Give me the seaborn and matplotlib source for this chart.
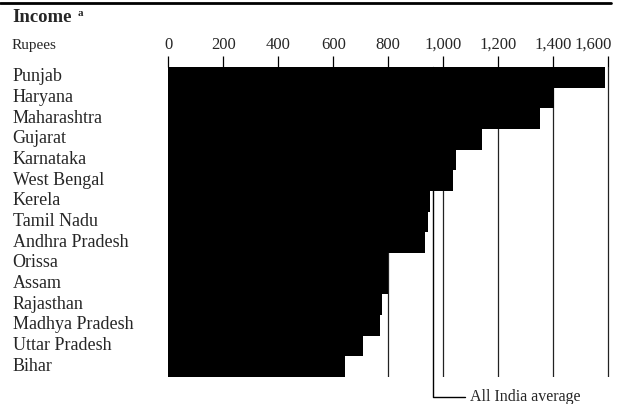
"""
Доход на душу населения по штатам Индии, рупии (горизонтальные столбцы).
"""
import pandas as pd
import seaborn as sns
import matplotlib.pyplot as plt
from matplotlib.transforms import ScaledTranslation

sns.set_theme(style="white")
plt.rcParams['font.family'] = ['Liberation Serif', 'DejaVu Serif']

# данные с картинки
states = ['Punjab', 'Haryana', 'Maharashtra', 'Gujarat', 'Karnataka', 'West Bengal',
          'Kerela', 'Tamil Nadu', 'Andhra Pradesh', 'Orissa', 'Assam', 'Rajasthan',
          'Madhya Pradesh', 'Uttar Pradesh', 'Bihar']
income = [1588, 1403, 1352, 1140, 1046, 1036, 952, 945, 933, 800, 798, 776, 770, 709, 643]
all_india_average = 963
x_ticks = [0, 200, 400, 600, 800, 1000, 1200, 1400, 1600]
x_tick_labels = ['0', '200', '400', '600', '800', '1,000', '1,200', '1,400', '1,600']

data_frame = pd.DataFrame({'state': states, 'income': income})

W, H = 623, 404
fig = plt.figure(figsize=(W / 100, H / 100), dpi=100)
ax = fig.add_axes([168.3 / W, 27 / H, 442.75 / W, 310 / H])

sns.barplot(data=data_frame, x='income', y='state', orient='h', color='black',
            saturation=1, width=1.0, linewidth=0, ax=ax, zorder=2)

ax.set_xlim(0, 1610)
ax.set_ylim(len(states) - 0.5, -0.5)
ax.set_xlabel('')
ax.set_ylabel('')
for spine in ax.spines.values():
    spine.set_visible(False)

# шкала сверху
ax.xaxis.tick_top()
ax.set_xticks(x_ticks, x_tick_labels)
ax.tick_params(axis='x', direction='out', length=8, width=0.9, color='black',
               pad=2, labelsize=12, top=True, bottom=False)
# последняя подпись сдвинута влево, как в оригинале
last = ax.get_xticklabels()[-1]
last.set_transform(last.get_transform() + ScaledTranslation(-0.15, 0, fig.dpi_scale_trans))

# вертикальные линии сетки
for tick in x_ticks:
    ax.axvline(tick, color='#222222', lw=0.9, zorder=1)

# подписи штатов слева
ax.tick_params(axis='y', length=0, pad=112, labelsize=13)
for label in ax.get_yticklabels():
    label.set_horizontalalignment('left')
    label.set_transform(label.get_transform() + ScaledTranslation(0, 0.025, fig.dpi_scale_trans))

# линия среднего по Индии
y_bottom = len(states) - 0.5 + 0.97
ax.plot([all_india_average, all_india_average, 1079], [-0.5, y_bottom, y_bottom],
        color='black', lw=1, clip_on=False, zorder=1)
ax.text(1097, y_bottom, 'All India average', fontsize=11.5, va='center', ha='left')

# заголовок и верхняя линейка
fig.add_artist(plt.Line2D([0, 611 / W], [1 - 3 / H, 1 - 3 / H], transform=fig.transFigure,
                          color='black', lw=2))
fig.text(12 / W, 1 - 17 / H, 'Income', fontsize=13.5, fontweight='bold', va='center')
fig.text(78 / W, 1 - 13 / H, 'a', fontsize=8, fontweight='bold', va='center')
fig.text(12 / W, 1 - 45 / H, 'Rupees', fontsize=11, va='center')

fig.savefig('out.png', dpi=100)
